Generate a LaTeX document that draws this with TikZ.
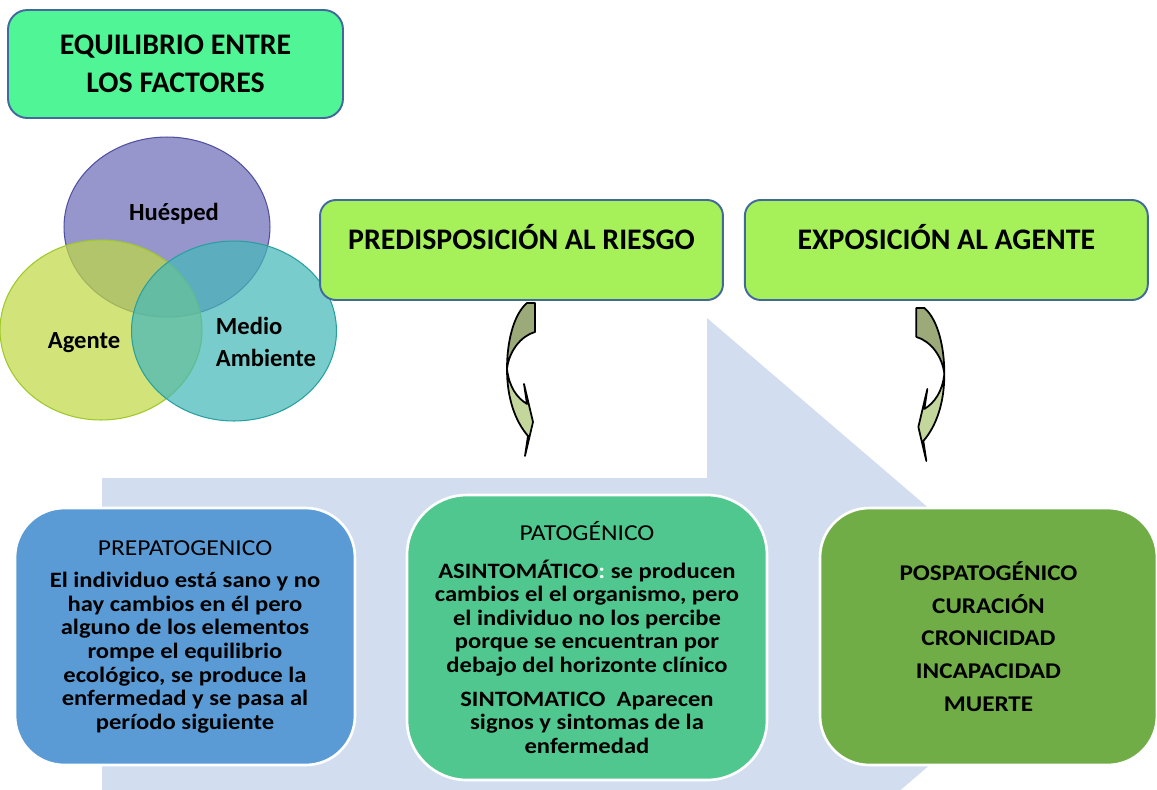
\documentclass[tikz,border=0pt]{standalone}
\usepackage{fontspec}
\setmainfont{Carlito}
\newfontfamily\phasefont[FakeStretch=1.12]{Carlito}
\usepackage{tikz}
\usetikzlibrary{shapes,arrows,positioning,calc}

\definecolor{eqgreen}{RGB}{80,245,149}
\definecolor{frameblue}{RGB}{65,105,160}
\definecolor{riskgreen}{RGB}{166,241,90}
\definecolor{huesfill}{RGB}{111,109,185}
\definecolor{huesline}{RGB}{80,80,160}
\definecolor{agenfill}{RGB}{191,216,69}
\definecolor{agenline}{RGB}{160,200,40}
\definecolor{mediofill}{RGB}{69,184,184}
\definecolor{medioline}{RGB}{40,160,160}
\definecolor{bgarrow}{RGB}{210,222,239}
\definecolor{preblue}{RGB}{91,155,213}
\definecolor{patteal}{RGB}{80,199,143}
\definecolor{posgreen}{RGB}{112,173,71}
\definecolor{arrowdark}{RGB}{155,170,120}
\definecolor{arrowlight}{RGB}{195,214,155}

\newcommand{\phasehead}{\fontsize{13}{14}\selectfont\mdseries}

\tikzset{
  eqbox/.style={draw=frameblue, line width=1.1pt, fill=eqgreen, rounded corners=11pt,
    minimum width=6.7cm, minimum height=2.16cm, align=center,
    font=\fontsize{17}{21.5}\selectfont\bfseries},
  riskbox/.style={draw=frameblue, line width=1.1pt, fill=riskgreen, rounded corners=9pt,
    minimum width=8.06cm, minimum height=2cm},
  risktxt/.style={font=\fontsize{17}{20}\selectfont\bfseries},
  venn/.style={ellipse, fill opacity=0.72, line width=0.6pt},
  venntxt/.style={font=\fontsize{14}{18}\selectfont\bfseries, align=left},
  phasebox/.style={draw=white, line width=1.5pt, rounded corners=28pt, align=center,
    font=\phasefont\fontsize{12.5}{13.4}\selectfont\bfseries},
  curvarrow/.pic={
    \filldraw[fill=arrowdark, draw=black, line width=1pt, line join=round]
      (0,0) -- (0,29) .. controls (-14,33) and (-26,48) .. (-28,66)
      .. controls (-28,40) and (-22,12) .. (-8,0) -- cycle;
    \filldraw[fill=arrowlight, draw=black, line width=1pt, line join=round]
      (-28,66) .. controls (-28,95) and (-20,118) .. (-7,133) -- (-10,153)
      -- (-2,119) -- (-11,81) -- (-8,101)
      .. controls (-18,95) and (-26,84) .. (-28,66) -- cycle;
  }
}

\begin{document}
\begin{tikzpicture}[x=0.02cm, y=-0.02cm]
\useasboundingbox (0,0) rectangle (1157,789);

\begin{scope}
  \clip (0,0) rectangle (1157,789);
  \fill[bgarrow] (102,478) -- (707,478) -- (707,318) -- (1079,637) -- (707,956)
    -- (707,796) -- (102,796) -- cycle;
\end{scope}

\node[eqbox] (equil) at (175.5,64) {EQUILIBRIO ENTRE\\LOS FACTORES};

\node[venn, fill=huesfill, draw=huesline, minimum width=4.12cm, minimum height=3.6cm] (hues) at (167,227) {};
\node[venn, fill=agenfill, draw=agenline, minimum width=4.04cm, minimum height=3.6cm] (agen) at (101,330) {};
\node[venn, fill=mediofill, draw=medioline, minimum width=4.1cm, minimum height=3.6cm] (medio) at (234,331) {};
\node[venntxt] (huestxt) at (174,214) {Huésped};
\node[venntxt] (agentxt) at (84,343) {Agente};
\node[venntxt] (mediotxt) at (266,342) {Medio\\Ambiente};

\node[riskbox] (pred) at (521.5,250) {};
\node[riskbox, right=0.4cm of pred] (expo) {};
\node[risktxt] (predtxt) at ([yshift=0.26cm]pred.center) {PREDISPOSICIÓN AL RIESGO};
\node[risktxt] (expotxt) at ([yshift=0.26cm]expo.center) {EXPOSICIÓN AL AGENTE};

\pic at ([xshift=0.27cm,yshift=-0.04cm]pred.south) {curvarrow};
\pic[xscale=-1] at ([xshift=-0.6cm,yshift=-0.14cm]expo.south) {curvarrow};

\node[phasebox, fill=preblue, minimum width=6.8cm, minimum height=5.14cm] (prepat) at (185,636.5)
  {{\phasehead PREPATOGENICO}\\[5.3pt]
   El individuo está sano y no\\
   hay cambios en él pero\\
   alguno de los elementos\\
   rompe el equilibrio\\
   ecológico, se produce la\\
   enfermedad y se pasa al\\
   período siguiente};

\node[phasebox, fill=patteal, minimum width=7.2cm, minimum height=5.7cm, rounded corners=34pt] (patog) at (587,637.5)
  {{\phasehead PATOGÉNICO}\\[8pt]
   ASINTOMÁTICO\textcolor{white}{:} se producen\\
   cambios el el organismo, pero\\
   el individuo no los percibe\\
   porque se encuentran por\\
   debajo del horizonte clínico\\[5.7pt]
   SINTOMATICO~ Aparecen\\
   signos y sintomas de la\\
   enfermedad};

\node[phasebox, fill=posgreen, minimum width=6.74cm, minimum height=5.14cm, font=\phasefont\fontsize{12.8}{18.7}\selectfont\bfseries] (pospat) at (988.5,636.5)
  {POSPATOGÉNICO\\
   CURACIÓN\\
   CRONICIDAD\\
   INCAPACIDAD\\
   MUERTE};
\end{tikzpicture}
\end{document}
